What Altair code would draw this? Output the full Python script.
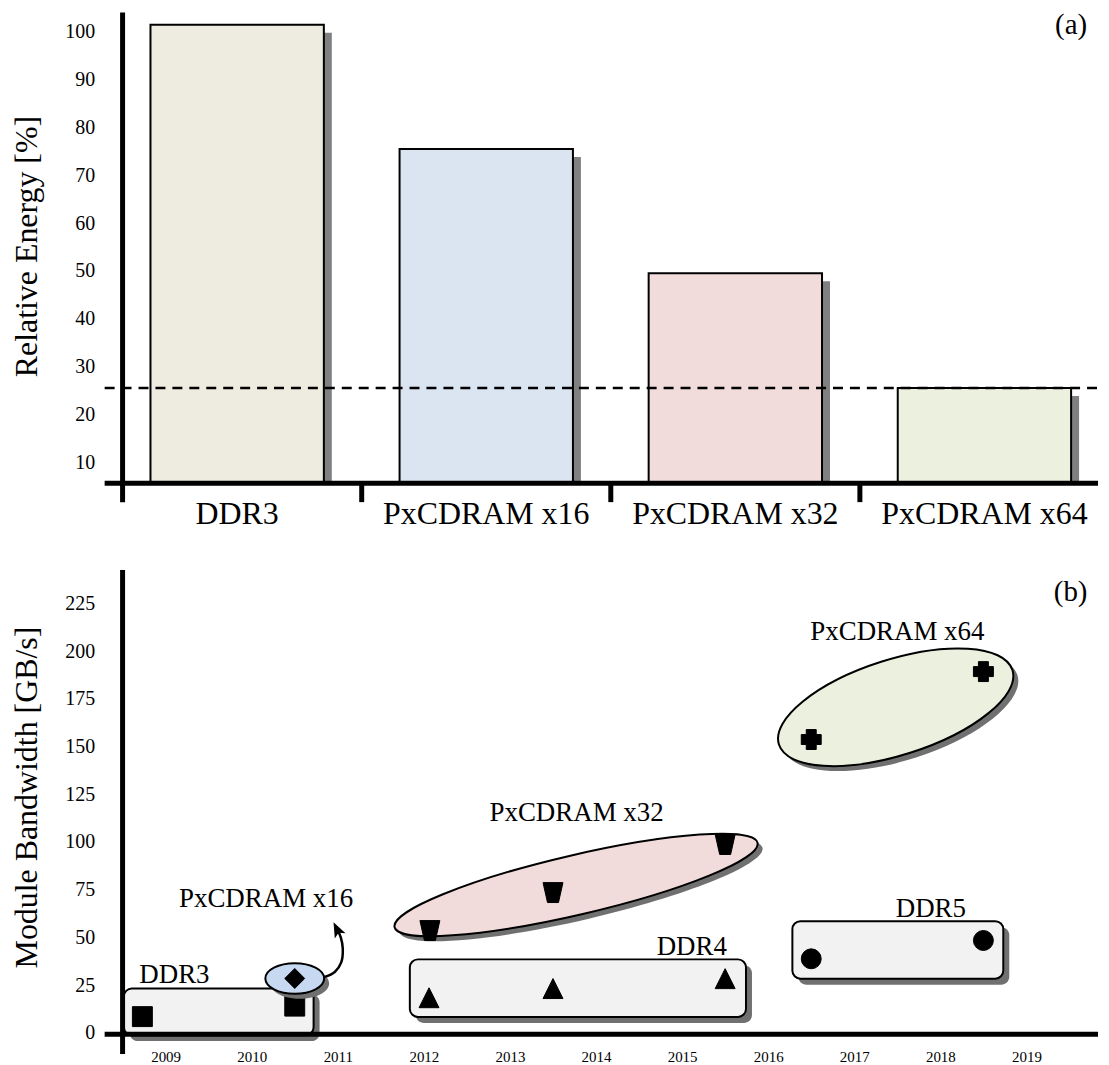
import altair as alt
import pandas as pd

FONT = "Liberation Serif"

# ---------------- panel (a) data ----------------
categories = ["DDR3", "PxCDRAM x16", "PxCDRAM x32", "PxCDRAM x64"]
relative_energy = [101.5, 75.5, 49.5, 25.5]
bar_colors = ["#EEECE1", "#DBE5F1", "#F2DCDB", "#EBF1DE"]
energy_ticks = [10, 20, 30, 40, 50, 60, 70, 80, 90, 100]
target_energy = [25.5]
energy_domain = [5.6, 104.6]

# ---------------- panel (b) data ----------------
year_ticks = list(range(2009, 2020))
year_domain = [2009.0, 2020.343]
bw_ticks = [0, 25, 50, 75, 100, 125, 150, 175, 200, 225]
bw_domain = [-0.7, 242.6]

ddr3_year = [2009.23, 2011.0]
ddr3_bw = [8.5, 14.0]
x16_year = [2011.0]
x16_bw = [28.5]
ddr4_year = [2012.56, 2014.0, 2016.0]
ddr4_bw = [18.4, 23.2, 28.4]
x32_year = [2012.57, 2014.0, 2016.0]
x32_bw = [53.6, 73.5, 98.7]
ddr5_year = [2017.0, 2019.0]
ddr5_bw = [38.8, 48.4]
x64_year = [2017.0, 2019.0]
x64_bw = [153.7, 189.3]

# group boxes (DDR generations)
box_names = ["DDR3", "DDR4", "DDR5"]
box_year_start = [2009.015, 2012.337, 2016.781]
box_year_end = [2011.219, 2016.242, 2019.231]
box_bw_low = [-1.2, 8.35, 28.4]
box_bw_high = [23.2, 38.5, 58.5]

# group ellipses (PxCDRAM)
ell_names = ["PxCDRAM x16", "PxCDRAM x32", "PxCDRAM x64"]
ell_year = [2011.0, 2014.268, 2017.981]
ell_bw = [28.5, 77.5, 170.6]

# annotations
ann_text = ["DDR3", "PxCDRAM x16", "PxCDRAM x32", "DDR4", "PxCDRAM x64", "DDR5"]
ann_year = [2009.602, 2010.667, 2014.274, 2015.612, 2018.001, 2018.390]
ann_bw = [30.1, 70.3, 115.4, 44.9, 210.2, 64.9]

arrow_year = [2011.341, 2011.465, 2011.540, 2011.558, 2011.535, 2011.506]
arrow_bw = [29.2, 31.9, 36.9, 44.2, 50.0, 53.1]
arrow_head_year = [2011.491]
arrow_head_bw = [54.2]

panel_labels = ["(a)", "(b)"]

# ---------------- styles ----------------
ell_colors = ["#C6D9F1", "#F2DCDB", "#EBF1DE"]
ell_width_px = [59, 374, 246]
ell_ratio = [0.52, 0.16, 0.39]
ell_angle = [0, 346.9, 342.3]

TRI = "M0,-1 L1,1 L-1,1 Z"
TRAP = "M-1,-1 L1,-1 L0.55,1 L-0.55,1 Z"
PLUS = ("M-0.5,-1 L0.5,-1 L0.5,-0.5 L1,-0.5 L1,0.5 L0.5,0.5 L0.5,1 "
        "L-0.5,1 L-0.5,0.5 L-1,0.5 L-1,-0.5 L-0.5,-0.5 Z")
HEAD = "M0,-1 L0.75,0.9 L0,0.45 L-0.75,0.9 Z"

series_names = ["DDR3", "PxCDRAM x16", "DDR4", "PxCDRAM x32", "DDR5", "PxCDRAM x64"]
series_shapes = ["square", "diamond", TRI, TRAP, "circle", PLUS]


def ellipse_path(q):
    k = 0.5523
    return (f"M1,0 C1,{k*q:.4f} {k},{q} 0,{q} C{-k},{q} -1,{k*q:.4f} -1,0 "
            f"C-1,{-k*q:.4f} {-k},{-q} 0,{-q} C{k},{-q} 1,{-k*q:.4f} 1,0 Z")


# ================= panel (a) =================
X_TOP = alt.Scale(domain=categories, paddingInner=0.304, paddingOuter=0.112)
Y_TOP = alt.Scale(domain=energy_domain, nice=False, zero=False)

x_axis_top = alt.Axis(title=None, labelAngle=0, labelFont=FONT, labelFontSize=32,
                      labelColor="black", domain=False, ticks=False, tickSize=0,
                      labelPadding=15, labelLimit=400, grid=False)
y_axis_top = alt.Axis(title="Relative Energy [%]", values=energy_ticks, labelFont=FONT,
                      labelFontSize=20, labelColor="black", domain=False, ticks=False,
                      tickSize=0, grid=False, labelPadding=28, titleFont=FONT,
                      titleFontSize=32, titleFontWeight="normal", titleColor="black",
                      titleAngle=270, titleX=-86, titleY=237, titleBaseline="alphabetic",
                      titleAlign="center", titleLimit=700)


def tx():
    return alt.X("cat:N", scale=X_TOP, axis=x_axis_top, sort=categories)


def ty():
    return alt.Y("energy:Q", scale=Y_TOP, axis=y_axis_top)


bars_df = pd.DataFrame({"cat": categories, "energy": relative_energy})

bar_shadow = alt.Chart(bars_df).mark_bar(color="#808080", xOffset=8, yOffset=8).encode(
    x=tx(), y=ty(), y2=alt.datum(energy_domain[0]))
bars = alt.Chart(bars_df).mark_bar(stroke="black", strokeWidth=2).encode(
    x=tx(), y=ty(), y2=alt.datum(energy_domain[0]),
    color=alt.Color("cat:N", scale=alt.Scale(domain=categories, range=bar_colors), legend=None),
)
target = alt.Chart(pd.DataFrame({"energy": target_energy})).mark_rule(
    strokeDash=[10, 7], strokeWidth=2.5, color="black").encode(
    y=ty(), x=alt.value(-18), x2=alt.value(979))
one = pd.DataFrame({"k": [0]})
top_yaxis = alt.Chart(one).mark_rule(strokeWidth=5, color="black").encode(
    x=alt.value(0), y=alt.value(2.5), y2=alt.value(494))
top_xaxis = alt.Chart(one).mark_rule(strokeWidth=5, color="black").encode(
    y=alt.value(475), x=alt.value(-18), x2=alt.value(979))
top_sep = alt.Chart(pd.DataFrame({"cat": categories[:-1]})).mark_rule(
    strokeWidth=5, color="black", xOffset=125).encode(
    x=tx(), y=alt.value(475), y2=alt.value(494))
label_a = alt.Chart(pd.DataFrame({"label": [panel_labels[0]]})).mark_text(
    font=FONT, fontSize=29, color="black", align="center", baseline="middle").encode(
    x=alt.value(952), y=alt.value(15), text="label:N")

top = alt.layer(bar_shadow, bars, target, top_yaxis, top_xaxis, top_sep, label_a).properties(
    width=980, height=475)

# ================= panel (b) =================
X_BOT = alt.Scale(domain=year_domain, nice=False, zero=False)
Y_BOT = alt.Scale(domain=bw_domain, nice=False, zero=False)

x_axis_bot = alt.Axis(title=None, values=[y + 0.5 for y in year_ticks],
                      labelExpr="floor(datum.value)", labelFont=FONT, labelFontSize=15,
                      labelColor="black", domain=False, ticks=False, tickSize=0, grid=False,
                      labelPadding=15, labelFlush=False, labelOverlap=False)
y_axis_bot = alt.Axis(title="Module Bandwidth [GB/s]", values=bw_ticks, labelFont=FONT,
                      labelFontSize=20, labelColor="black", domain=False, ticks=False,
                      tickSize=0, grid=False, labelPadding=28, titleFont=FONT,
                      titleFontSize=32, titleFontWeight="normal", titleColor="black",
                      titleAngle=270, titleX=-86, titleY=228, titleBaseline="alphabetic",
                      titleAlign="center", titleLimit=700)


def bx(field):
    return alt.X(field, type="quantitative", scale=X_BOT, axis=x_axis_bot)


def by(field):
    return alt.Y(field, type="quantitative", scale=Y_BOT, axis=y_axis_bot)


boxes_df = pd.DataFrame({"name": box_names, "x0": box_year_start, "x1": box_year_end,
                         "y0": box_bw_low, "y1": box_bw_high})
box_shadow = alt.Chart(boxes_df).mark_rect(
    cornerRadius=8, color="#707070", xOffset=6, x2Offset=6, yOffset=6, y2Offset=6).encode(
    x=bx("x0"), x2="x1", y=by("y0"), y2="y1")
boxes = alt.Chart(boxes_df).mark_rect(
    cornerRadius=8, fill="#F2F2F2", stroke="black", strokeWidth=2).encode(
    x=bx("x0"), x2="x1", y=by("y0"), y2="y1")

rows = []
for name, yrs, bws in [("DDR3", ddr3_year, ddr3_bw), ("PxCDRAM x16", x16_year, x16_bw),
                       ("DDR4", ddr4_year, ddr4_bw), ("PxCDRAM x32", x32_year, x32_bw),
                       ("DDR5", ddr5_year, ddr5_bw), ("PxCDRAM x64", x64_year, x64_bw)]:
    for yv, bv in zip(yrs, bws):
        rows.append({"series": name, "year": yv, "bw": bv})
pts = pd.DataFrame(rows)
shape_enc = alt.Shape("series:N", scale=alt.Scale(domain=series_names, range=series_shapes),
                      legend=None)


def marker_layer(df):
    return alt.Chart(df).mark_point(
        filled=True, fill="black", stroke="black", strokeWidth=1, strokeJoin="round",
        opacity=1, size=400).encode(x=bx("year"), y=by("bw"), shape=shape_enc)


ddr_markers = marker_layer(pts[pts["series"].str.startswith("DDR")])
px_markers = marker_layer(pts[pts["series"].str.startswith("Px")])

ell_layers = []
for i in range(3):
    edf = pd.DataFrame({"name": [ell_names[i]], "year": [ell_year[i]], "bw": [ell_bw[i]]})
    path = ellipse_path(ell_ratio[i])
    size = ell_width_px[i] ** 2
    ell_layers.append(alt.Chart(edf).mark_point(
        shape=path, size=size, angle=ell_angle[i], filled=True, fill="#707070",
        opacity=1, strokeWidth=0, xOffset=5, yOffset=5).encode(x=bx("year"), y=by("bw")))
    ell_layers.append(alt.Chart(edf).mark_point(
        shape=path, size=size, angle=ell_angle[i], filled=True, fill=ell_colors[i],
        stroke="black", strokeWidth=2, opacity=1).encode(x=bx("year"), y=by("bw")))

arrow_df = pd.DataFrame({"i": list(range(len(arrow_year))), "year": arrow_year, "bw": arrow_bw})
arrow = alt.Chart(arrow_df).mark_line(color="black", strokeWidth=2.5,
                                      interpolate="catmull-rom").encode(
    x=bx("year"), y=by("bw"), order="i:O")
arrow_head = alt.Chart(pd.DataFrame({"year": arrow_head_year, "bw": arrow_head_bw})).mark_point(
    shape=HEAD, size=256, angle=334, filled=True, fill="black", opacity=1, strokeWidth=0).encode(
    x=bx("year"), y=by("bw"))

ann = alt.Chart(pd.DataFrame({"label": ann_text, "year": ann_year, "bw": ann_bw})).mark_text(
    font=FONT, fontSize=27, color="black", align="center", baseline="middle").encode(
    x=bx("year"), y=by("bw"), text="label:N")

bot_yaxis = alt.Chart(one).mark_rule(strokeWidth=5, color="black").encode(
    x=alt.value(0), y=alt.value(0), y2=alt.value(486))
bot_xaxis = alt.Chart(one).mark_rule(strokeWidth=5, color="black").encode(
    y=alt.value(466), x=alt.value(-18), x2=alt.value(979))
label_b = alt.Chart(pd.DataFrame({"label": [panel_labels[1]]})).mark_text(
    font=FONT, fontSize=29, color="black", align="center", baseline="middle").encode(
    x=alt.value(951.5), y=alt.value(22), text="label:N")

bottom = alt.layer(box_shadow, boxes, ddr_markers, *ell_layers, px_markers, arrow, arrow_head,
                   ann, bot_yaxis, bot_xaxis, label_b).properties(width=980, height=466)

chart = alt.vconcat(top, bottom, spacing=38).properties(
    padding={"left": 2, "top": 0, "right": 0, "bottom": 0}
).configure_view(stroke=None)

chart.save("out.html", embed_options={"renderer": "svg", "actions": False})
